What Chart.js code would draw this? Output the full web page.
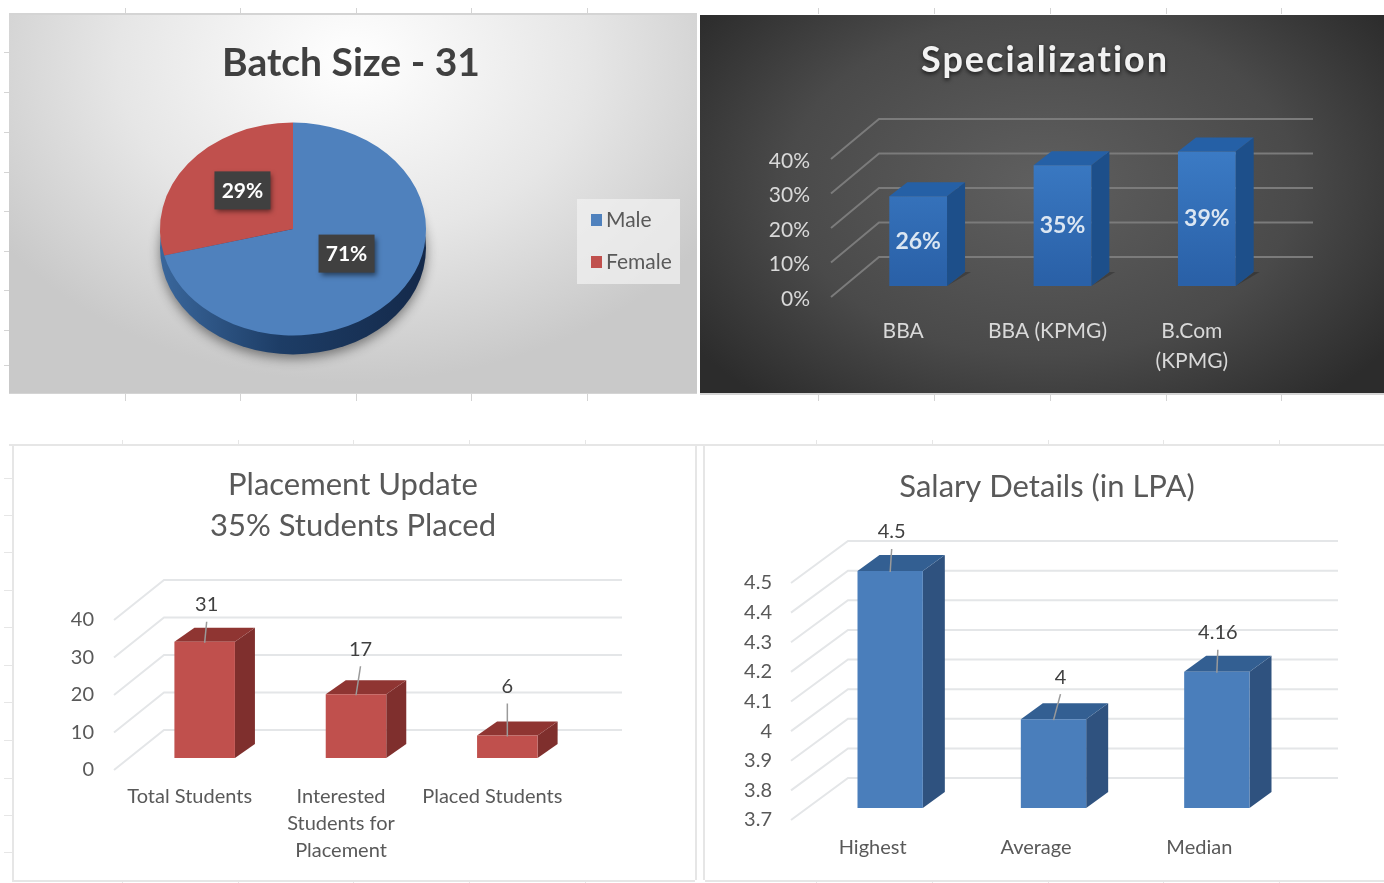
<!DOCTYPE html>
<html>
<head>
<meta charset="utf-8">
<title>Batch report</title>
<script src="https://cdn.jsdelivr.net/npm/chart.js@4"></script>
<style>
	html, body { margin: 0; padding: 0; background: #ffffff; overflow: hidden; }
	#page { position: relative; width: 1384px; height: 883px; filter: blur(0.6px); }
	.panel { position: absolute; box-sizing: border-box; }
	.panel canvas { position: absolute; left: 0; top: 0; }
	.rule { position: absolute; background: #d4d4d4; }
	.rule.soft { background: #e6e6e6; }
	#batchPanel { left: 9px; top: 14px; width: 688px; height: 379px; background: radial-gradient(ellipse 62% 85% at 50% 12%, #ffffff 0%, #e6e6e6 55%, #c9c9c9 100%); }
	#specPanel { left: 700px; top: 15px; width: 684px; height: 378px; background: radial-gradient(ellipse 62% 75% at 50% 45%, #5f5f5f 0%, #4a4a4a 60%, #2c2c2c 100%); }
	#placedPanel { left: 14px; top: 447px; width: 681px; height: 433px; background: #ffffff; }
	#salaryPanel { left: 705px; top: 449px; width: 679px; height: 431px; background: #ffffff; }
</style>
</head>
<body>
<div id="page">
	<div class="panel" id="batchPanel"><canvas id="batchChart" width="688" height="379"></canvas></div>
	<div class="panel" id="specPanel"><canvas id="specChart" width="684" height="378"></canvas></div>
	<div class="panel" id="placedPanel"><canvas id="placedChart" width="681" height="433"></canvas></div>
	<div class="panel" id="salaryPanel"><canvas id="salaryChart" width="679" height="431"></canvas></div>
</div>
<script>
const genderLabels = ["Male", "Female"];
const genderValues = [71, 29];

const specLabels = ["BBA", "BBA (KPMG)", ["B.Com", "(KPMG)"]];
const specValues = [26, 35, 39];

const placedLabels = ["Total Students", ["Interested", "Students for", "Placement"], "Placed Students"];
const placedValues = [31, 17, 6];

const salaryLabels = ["Highest", "Average", "Median"];
const salaryValues = [4.5, 4, 4.16];

const FONT = "Lato, 'Noto Sans', sans-serif";

// Draws the heading of a panel
const panelTitle = {
	id: "panelTitle",
	beforeDraw: function (chart, args, opts) {
		const ctx = chart.ctx;
		ctx.save();
		ctx.font = opts.weight + " " + opts.size + "px " + FONT;
		ctx.fillStyle = opts.color;
		ctx.textAlign = "center";
		ctx.textBaseline = "middle";
		ctx.letterSpacing = opts.spacing + "px";
		if (opts.glow) {
			ctx.shadowColor = "rgba(0,0,0,0.7)";
			ctx.shadowBlur = 4;
			ctx.shadowOffsetY = 2;
		}
		opts.lines.forEach(function (line, i) {
			ctx.fillText(line, opts.x, opts.y + i * opts.lineGap);
		});
		ctx.restore();
	},
};

// Fakes the Excel 3-D column look around the bars the library draws
const box3d = {
	id: "box3d",
	beforeDatasetsDraw: function (chart, args, opts) {
		const ctx = chart.ctx;
		const yScale = chart.scales.y;
		const area = chart.chartArea;

		ctx.save();
		ctx.strokeStyle = opts.gridColor;
		ctx.lineWidth = opts.gridWidth;
		yScale.ticks.forEach(function (tick, i) {
			const y = yScale.getPixelForTick(i);
			ctx.beginPath();
			ctx.moveTo(area.left, y);
			ctx.lineTo(area.left + opts.wallX, y + opts.wallY);
			ctx.lineTo(area.right + opts.wallX + opts.gridOverrun, y + opts.wallY);
			ctx.stroke();
		});

		// Everything until afterDatasetsDraw sits halfway into the depth of the wall
		ctx.translate(opts.shiftX, opts.shiftY);
		chart.getDatasetMeta(0).data.forEach(function (bar) {
			const left = bar.x - bar.width / 2;
			const right = bar.x + bar.width / 2;

			if (opts.floorShadow) {
				ctx.fillStyle = "rgba(0,0,0,0.22)";
				ctx.beginPath();
				ctx.moveTo(right, bar.base);
				ctx.lineTo(right + opts.depthX + 6, bar.base + opts.depthY);
				ctx.lineTo(right + opts.depthX, bar.base + opts.depthY);
				ctx.closePath();
				ctx.fill();
			}

			ctx.fillStyle = opts.sideColor;
			ctx.beginPath();
			ctx.moveTo(right, bar.y);
			ctx.lineTo(right + opts.depthX, bar.y + opts.depthY);
			ctx.lineTo(right + opts.depthX, bar.base + opts.depthY);
			ctx.lineTo(right, bar.base);
			ctx.closePath();
			ctx.fill();

			ctx.fillStyle = opts.topColor;
			ctx.beginPath();
			ctx.moveTo(left, bar.y);
			ctx.lineTo(left + opts.depthX, bar.y + opts.depthY);
			ctx.lineTo(right + opts.depthX, bar.y + opts.depthY);
			ctx.lineTo(right, bar.y);
			ctx.closePath();
			ctx.fill();
		});
	},
	afterDatasetsDraw: function (chart, args, opts) {
		const ctx = chart.ctx;
		const values = chart.data.datasets[0].data;

		ctx.textAlign = "center";
		ctx.textBaseline = "middle";
		ctx.font = opts.labelWeight + " " + opts.labelSize + "px " + FONT;
		chart.getDatasetMeta(0).data.forEach(function (bar, i) {
			const text = values[i] + opts.suffix;

			if (opts.leaders) {
				const lead = opts.leaders[i];
				ctx.strokeStyle = "#9a9a9a";
				ctx.lineWidth = 1.5;
				ctx.beginPath();
				ctx.moveTo(bar.x + lead[0], bar.y - lead[1] + 17);
				ctx.lineTo(bar.x, bar.y + 1);
				ctx.stroke();
				ctx.fillStyle = opts.labelColor;
				ctx.fillText(text, bar.x + lead[0], bar.y - lead[1]);
			} else {
				ctx.fillStyle = opts.labelColor;
				ctx.fillText(text, bar.x, (bar.y + bar.base) / 2);
			}
		});
		ctx.restore();
	},
};

// Squashes the pie into an ellipse and adds its rim, legend and value boxes
const squashedPie = {
	id: "squashedPie",
	beforeDatasetsDraw: function (chart, args, opts) {
		const ctx = chart.ctx;
		const arc = chart.getDatasetMeta(0).data[0];
		const rx = arc.outerRadius;
		const ry = rx * opts.squash;

		// Rim below the top face
		const rim = ctx.createLinearGradient(arc.x - rx, 0, arc.x + rx, 0);
		rim.addColorStop(0, "#3a679c");
		rim.addColorStop(0.45, "#1d3d66");
		rim.addColorStop(1, "#14294a");
		ctx.save();
		ctx.shadowColor = "rgba(0,0,0,0.45)";
		ctx.shadowBlur = 12;
		ctx.shadowOffsetY = 4;
		ctx.fillStyle = rim;
		ctx.beginPath();
		ctx.ellipse(arc.x, arc.y + opts.rim, rx, ry, 0, 0, Math.PI * 2);
		ctx.fill();
		ctx.restore();

		ctx.save();
		ctx.translate(arc.x, arc.y);
		ctx.scale(1, opts.squash);
		ctx.translate(-arc.x, -arc.y);
	},
	afterDatasetsDraw: function (chart, args, opts) {
		const ctx = chart.ctx;
		ctx.restore();

		const arcs = chart.getDatasetMeta(0).data;
		const values = chart.data.datasets[0].data;
		arcs.forEach(function (arc, i) {
			const p = arc.tooltipPosition();
			const cx = p.x + opts.nudge[i][0];
			const cy = arc.y + (p.y - arc.y) * opts.squash + opts.nudge[i][1];
			ctx.save();
			ctx.shadowColor = "rgba(0,0,0,0.5)";
			ctx.shadowBlur = 5;
			ctx.shadowOffsetX = 2;
			ctx.shadowOffsetY = 3;
			ctx.fillStyle = "#404040";
			ctx.fillRect(cx - 28, cy - 19, 56, 38);
			ctx.restore();
			ctx.fillStyle = "#ffffff";
			ctx.font = "bold 21px " + FONT;
			ctx.textAlign = "center";
			ctx.textBaseline = "middle";
			ctx.fillText(values[i] + "%", cx, cy + 1);
		});

		// Legend box
		ctx.fillStyle = "rgba(240,240,240,0.75)";
		ctx.fillRect(opts.legendX, opts.legendY, 103, 85);
		chart.data.labels.forEach(function (label, i) {
			const y = opts.legendY + 21 + i * 42;
			ctx.fillStyle = chart.data.datasets[0].backgroundColor[i];
			ctx.fillRect(opts.legendX + 14, y - 6, 11, 12);
			ctx.fillStyle = "#595959";
			ctx.font = "21px " + FONT;
			ctx.textAlign = "left";
			ctx.textBaseline = "middle";
			ctx.fillText(label, opts.legendX + 29, y);
		});
	},
};

function makeBarChart(canvasId, labels, values, look) {
	const canvas = document.getElementById(canvasId);
	return new Chart(canvas.getContext("2d"), {
		type: "bar",
		data: {
			labels: labels,
			datasets: [
				{
					data: values,
					base: look.min,
					backgroundColor: look.barFill(canvas.getContext("2d")),
					barPercentage: 0.4,
					categoryPercentage: 1,
					clip: false,
				},
			],
		},
		plugins: [panelTitle, box3d],
		options: {
			responsive: false,
			animation: false,
			events: [],
			layout: {
				autoPadding: false,
				padding: { top: look.top, right: canvas.width - look.right, left: 0, bottom: 0 },
			},
			scales: {
				x: {
					grid: { display: false },
					border: { display: false },
					afterFit: function (scale) {
						scale.height = canvas.height - look.bottom;
					},
					ticks: {
						color: look.tickColor,
						font: { family: FONT, size: look.xFontSize, lineHeight: look.xLineHeight },
						padding: look.xPadding,
						maxRotation: 0,
						autoSkip: false,
					},
				},
				y: {
					min: look.min,
					max: look.max,
					grid: { display: false },
					border: { display: false },
					afterFit: function (scale) {
						scale.width = look.left;
					},
					ticks: {
						stepSize: look.step,
						color: look.tickColor,
						font: { family: FONT, size: look.yFontSize },
						padding: look.yPadding,
						labelOffset: look.yLabelOffset,
						autoSkip: false,
						callback: function (value) {
							return +value.toFixed(1) + look.tickSuffix;
						},
					},
				},
			},
			plugins: {
				legend: { display: false },
				tooltip: { enabled: false },
				panelTitle: look.title,
				box3d: look.box,
			},
		},
	});
}

// Batch size pie
new Chart(document.getElementById("batchChart").getContext("2d"), {
	type: "pie",
	data: {
		labels: genderLabels,
		datasets: [
			{
				data: genderValues,
				backgroundColor: ["#4f81bd", "#c0504d"],
				borderWidth: 0,
				clip: false,
			},
		],
	},
	plugins: [panelTitle, squashedPie],
	options: {
		responsive: false,
		animation: false,
		events: [],
		layout: { autoPadding: false, padding: { left: 151, right: 271, top: 82, bottom: 31 } },
		plugins: {
			legend: { display: false },
			tooltip: { enabled: false },
			panelTitle: { lines: ["Batch Size - 31"], x: 342, y: 49, lineGap: 0, size: 39, weight: "bold", color: "#404040", spacing: 0 },
			squashedPie: { squash: 0.8, rim: 19, nudge: [[1, -8], [2, -6]], legendX: 568, legendY: 185 },
		},
	},
});

// Specialization
makeBarChart("specChart", specLabels, specValues, {
	top: 144,
	bottom: 282,
	left: 131,
	right: 564,
	min: 0,
	max: 40,
	step: 10,
	tickSuffix: "%",
	tickColor: "#d9d9d9",
	xFontSize: 21,
	xLineHeight: 1.45,
	xPadding: 11,
	yFontSize: 21,
	yPadding: 13,
	yLabelOffset: 2,
	barFill: function (ctx) {
		const fill = ctx.createLinearGradient(0, 140, 0, 275);
		fill.addColorStop(0, "#3c7cc6");
		fill.addColorStop(1, "#2a61a8");
		return fill;
	},
	title: { lines: ["Specialization"], x: 345, y: 45, lineGap: 0, size: 36, weight: "bold", color: "#f2f2f2", spacing: 2, glow: true },
	box: {
		gridColor: "#7b7b7b",
		gridWidth: 2,
		gridOverrun: 1,
		wallX: 48,
		wallY: -40,
		shiftX: 15,
		shiftY: -11,
		depthX: 18,
		depthY: -14,
		sideColor: "#1d4f8a",
		topColor: "#2560a6",
		floorShadow: true,
		labelSize: 23,
		labelWeight: "bold",
		labelColor: "#dbe6f2",
		suffix: "%",
	},
});

// Placement update
makeBarChart("placedChart", placedLabels, placedValues, {
	top: 173,
	bottom: 323,
	left: 100,
	right: 554,
	min: 0,
	max: 40,
	step: 10,
	tickSuffix: "",
	tickColor: "#595959",
	xFontSize: 20,
	xLineHeight: 1.35,
	xPadding: 5,
	yFontSize: 20,
	yPadding: 12,
	yLabelOffset: 0,
	barFill: function () {
		return "#c0504d";
	},
	title: { lines: ["Placement Update", "35% Students Placed"], x: 339, y: 38, lineGap: 41, size: 31, weight: "normal", color: "#595959", spacing: 0 },
	box: {
		gridColor: "#e4e6e8",
		gridWidth: 2,
		gridOverrun: 4,
		wallX: 50,
		wallY: -40,
		shiftX: 15,
		shiftY: -12,
		depthX: 20,
		depthY: -14,
		sideColor: "#7f2f2d",
		topColor: "#8f3532",
		labelSize: 20,
		labelWeight: "normal",
		labelColor: "#404040",
		suffix: "",
		leaders: [[2, 37], [4.5, 45], [0, 49]],
	},
});

// Salary details
makeBarChart("salaryChart", salaryLabels, salaryValues, {
	top: 134,
	bottom: 371,
	left: 86,
	right: 576,
	min: 3.7,
	max: 4.5,
	step: 0.1,
	tickSuffix: "",
	tickColor: "#595959",
	xFontSize: 20,
	xLineHeight: 1.2,
	xPadding: 8,
	yFontSize: 20,
	yPadding: 11,
	yLabelOffset: 0,
	barFill: function () {
		return "#4a7ebb";
	},
	title: { lines: ["Salary Details (in LPA)"], x: 342, y: 38, lineGap: 0, size: 31, weight: "normal", color: "#595959", spacing: 0 },
	box: {
		gridColor: "#e4e6e8",
		gridWidth: 2,
		gridOverrun: 0,
		wallX: 57,
		wallY: -42,
		shiftX: 17.5,
		shiftY: -12,
		depthX: 22,
		depthY: -16,
		sideColor: "#2f527f",
		topColor: "#335f92",
		labelSize: 20,
		labelWeight: "normal",
		labelColor: "#404040",
		suffix: "",
		leaders: [[1.5, 39], [7, 42], [1, 39]],
	},
});

// Leftover spreadsheet cell rules around the panels
function addRule(x, y, w, h, soft) {
	const rule = document.createElement("div");
	rule.className = soft ? "rule soft" : "rule";
	rule.style.left = x + "px";
	rule.style.top = y + "px";
	rule.style.width = w + "px";
	rule.style.height = h + "px";
	document.getElementById("page").appendChild(rule);
}

[125, 240, 356, 471, 587, 818, 934, 1050, 1166, 1281].forEach(function (x) {
	addRule(x, 8, 1, 6);
	addRule(x, 394, 1, 7);
});
[122, 238, 353, 469, 585, 816, 932, 1048, 1163, 1279].forEach(function (x) {
	addRule(x, 440, 1, 6, true);
	addRule(x, 880, 1, 3, true);
});
[52, 92, 132, 172, 211, 251, 290, 330, 365].forEach(function (y) {
	addRule(4, y, 5, 1);
});
[478, 515, 552, 590, 627, 665, 702, 740, 778, 815, 852].forEach(function (y) {
	addRule(4, y, 8, 1, true);
});
addRule(9, 13, 688, 2);
addRule(9, 393, 688, 1);
addRule(700, 393, 684, 2);
addRule(9, 444, 1375, 2, true);
addRule(12, 446, 2, 434, true);
addRule(695, 446, 2, 434, true);
addRule(703, 446, 2, 434, true);
addRule(12, 880, 683, 2, true);
addRule(705, 880, 679, 2, true);
</script>
</body>
</html>
